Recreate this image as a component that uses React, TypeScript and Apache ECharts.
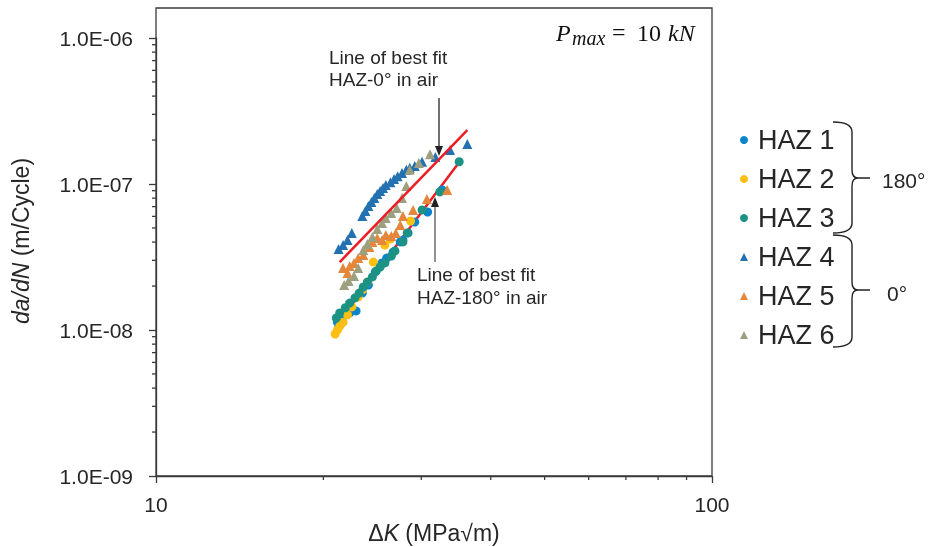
import React, { useEffect, useRef } from "react";
import * as echarts from "echarts";

const seriesNames = ["HAZ 1", "HAZ 2", "HAZ 3", "HAZ 4", "HAZ 5", "HAZ 6"];
const seriesColors = ["#0A84CA", "#FDBF12", "#1C9285", "#2371B1", "#E4873C", "#9DA07F"];

const haz1 = [[21.2,1.13e-8],[21.4,1.21e-8],[21.9,1.27e-8],[22.3,1.31e-8],[22.9,1.35e-8],[23.5,1.79e-8],[24.1,2.03e-8],[24.8,2.50e-8],[25.5,2.88e-8],[26.0,3.11e-8],[26.7,3.42e-8],[27.5,4.01e-8],[27.8,4.13e-8],[28.4,4.62e-8],[29.2,5.49e-8],[30.8,6.43e-8],[32.7,9.10e-8]];
const haz2 = [[21.0,9.39e-9],[21.2,1.0e-8],[21.4,1.06e-8],[21.7,1.13e-8],[22.1,1.27e-8],[22.5,1.44e-8],[23.1,1.68e-8],[23.5,1.88e-8],[24.0,2.13e-8],[24.6,2.92e-8],[25.8,3.82e-8],[26.4,4.20e-8],[28.7,5.58e-8]];
const haz3 = [[21.1,1.21e-8],[21.4,1.31e-8],[21.9,1.42e-8],[22.3,1.53e-8],[22.8,1.66e-8],[23.2,1.79e-8],[23.6,1.97e-8],[24.0,2.13e-8],[24.5,2.31e-8],[24.9,2.54e-8],[25.3,2.70e-8],[25.8,2.88e-8],[26.5,3.21e-8],[26.9,3.48e-8],[27.8,4.01e-8],[28.3,4.62e-8],[30.1,6.64e-8],[32.4,8.82e-8],[35.1,1.42e-7]];
const haz4 = [[21.3,3.59e-8],[21.7,3.82e-8],[22.1,4.13e-8],[22.5,4.62e-8],[23.5,6.04e-8],[23.8,6.54e-8],[24.1,7.07e-8],[24.4,7.53e-8],[24.7,8.02e-8],[25.0,8.55e-8],[25.3,8.96e-8],[25.6,9.39e-8],[25.9,9.85e-8],[26.4,1.03e-7],[26.8,1.08e-7],[27.2,1.13e-7],[27.7,1.19e-7],[28.2,1.25e-7],[28.6,1.29e-7],[29.2,1.33e-7],[30.1,1.42e-7],[31.8,1.53e-7],[33.8,1.71e-7],[36.3,1.88e-7]];
const haz5 = [[21.7,2.66e-8],[22.1,2.46e-8],[22.3,2.74e-8],[22.7,2.88e-8],[23.1,3.11e-8],[23.6,3.26e-8],[24.2,3.70e-8],[24.5,4.01e-8],[25.0,4.27e-8],[25.5,4.13e-8],[25.9,4.47e-8],[26.5,4.40e-8],[27.0,4.62e-8],[27.5,5.24e-8],[27.8,6.04e-8],[29.0,6.64e-8],[30.7,7.89e-8],[33.4,9.10e-8]];
const haz6 = [[21.8,2.03e-8],[22.2,2.17e-8],[22.7,2.34e-8],[23.1,2.66e-8],[23.6,3.53e-8],[24.0,3.88e-8],[24.5,4.34e-8],[25.0,4.92e-8],[25.5,5.41e-8],[25.9,5.85e-8],[26.5,6.33e-8],[27.1,6.85e-8],[27.7,8.02e-8],[28.2,9.69e-8],[28.6,1.25e-7],[29.7,1.39e-7],[31.1,1.60e-7]];
const fit0 = [[21.4,2.92e-8],[36.3,2.34e-7]];
const fit180 = [[21.0,1.05e-8],[34.8,1.35e-7]];

const xMin = 10, xMax = 100;
const yMin = 1e-9, yMax = 1e-6;
const xMinorTicks = [20, 30, 40, 50, 60, 70, 80, 90];
const yMinorTicks: number[] = [];
[1e-9, 1e-8, 1e-7].forEach((d) => { for (let k = 2; k <= 9; k++) yMinorTicks.push(k * d); });

const AXIS = "#3a3a3a";
const TXT = "#262626";
const FONT = "'Liberation Sans', Arial, sans-serif";
const SERIF = "'Liberation Serif', 'DejaVu Serif', serif";

const Brace = echarts.graphic.extendShape({
  shape: { x: 0, top: 0, bottom: 0, mid: 0 },
  buildPath(ctx: any, s: any) {
    const x0 = s.x, xv = s.x + 19, xt = s.x + 37;
    const t = s.top, b = s.bottom, m = s.mid;
    ctx.moveTo(x0, t);
    ctx.quadraticCurveTo(xv, t, xv, t + 10);
    ctx.lineTo(xv, m - 8);
    ctx.quadraticCurveTo(xv, m, xv + 6, m);
    ctx.lineTo(xt, m);
    ctx.moveTo(xv + 6, m);
    ctx.quadraticCurveTo(xv, m, xv, m + 8);
    ctx.lineTo(xv, b - 10);
    ctx.quadraticCurveTo(xv, b, x0, b);
  },
});
echarts.graphic.registerShape("brace", Brace);

function fmtY(v: number) {
  const e = Math.round(Math.log10(v));
  return "1.0E" + (e < 0 ? "-" : "+") + String(Math.abs(e)).padStart(2, "0");
}

export default function App() {
  const ref = useRef<HTMLDivElement>(null);
  useEffect(() => {
    const chart = echarts.init(ref.current!, undefined, { renderer: "svg" });
    const hazData = [haz1, haz2, haz3, haz4, haz5, haz6];
    const scatter = hazData.map((d, i) => ({
      name: seriesNames[i],
      type: "scatter",
      data: d,
      symbol: i < 3 ? "circle" : "triangle",
      symbolSize: i < 3 ? 9 : 10,
      itemStyle: { color: seriesColors[i], opacity: 1 },
      z: 3,
    }));
    const tickLine = (dir: "x" | "y") => (params: any, api: any) => {
      const p = api.coord([api.value(0), api.value(1)]);
      return {
        type: "line",
        shape: dir === "x"
          ? { x1: p[0], y1: p[1], x2: p[0], y2: p[1] + 4 }
          : { x1: p[0] - 4, y1: p[1], x2: p[0], y2: p[1] },
        style: { stroke: AXIS, lineWidth: 1.3 },
      };
    };
    const txt = (x: number, y: number, text: string, fontSize: number, extra: any = {}) => ({
      type: "text", x, y,
      style: { text, fontSize, fontFamily: FONT, fill: TXT, align: "left", verticalAlign: "middle", ...extra },
    });
    const option: any = {
      animation: false,
      grid: { left: 156, top: 38, right: 217, bottom: 71 },
      xAxis: {
        type: "log", logBase: 10, min: xMin, max: xMax,
        axisLine: { show: true, lineStyle: { color: AXIS, width: 1.3 } },
        axisTick: { show: true, length: 7, lineStyle: { color: AXIS, width: 1.3 } },
        axisLabel: { fontSize: 21, color: TXT, fontFamily: FONT, margin: 18 },
        splitLine: { show: false },
      },
      yAxis: {
        type: "log", logBase: 10, min: yMin, max: yMax, splitNumber: 3,
        axisLine: { show: true, lineStyle: { color: AXIS, width: 1.3 } },
        axisTick: { show: true, length: 7, lineStyle: { color: AXIS, width: 1.3 } },
        axisLabel: { fontSize: 21, color: TXT, fontFamily: FONT, margin: 23, formatter: fmtY },
        splitLine: { show: false },
      },
      legend: {
        data: seriesNames.map((n, i) => ({ name: n, icon: i < 3 ? "circle" : "triangle" })),
        orient: "vertical",
        left: 735,
        top: 120,
        itemWidth: 8,
        itemHeight: 8,
        itemGap: 9,
        textStyle: { fontSize: 27, color: TXT, fontFamily: FONT, lineHeight: 30, padding: [0, 0, 0, 5] },
        selectedMode: false,
      },
      series: [
        {
          name: "fit180", type: "line", data: fit180, symbol: "none",
          lineStyle: { color: "#ED1C24", width: 2.5 }, z: 2,
        },
        ...scatter,
        {
          name: "fit0", type: "line", data: fit0, symbol: "none",
          lineStyle: { color: "#ED1C24", width: 2.5 }, z: 4,
        },
        {
          name: "xminor", type: "custom", renderItem: tickLine("x"), clip: false, silent: true,
          data: xMinorTicks.map((v) => [v, yMin]), z: 5,
        },
        {
          name: "yminor", type: "custom", renderItem: tickLine("y"), clip: false, silent: true,
          data: yMinorTicks.map((v) => [xMin, v]), z: 5,
        },
      ],
      graphic: [
        { type: "rect", shape: { x: 156, y: 8, width: 556, height: 468 }, style: { fill: "none", stroke: AXIS, lineWidth: 1.3 }, silent: true },
        txt(556, 33, "P", 24, { fontStyle: "italic", fontFamily: SERIF, fill: "#111" }),
        txt(572, 38, "max", 20, { fontStyle: "italic", fontFamily: SERIF, fill: "#111" }),
        txt(612, 32, "=", 24, { fontFamily: SERIF, fill: "#111" }),
        txt(637, 33, "10", 24, { fontFamily: SERIF, fill: "#111" }),
        txt(668, 33, "kN", 24, { fontStyle: "italic", fontFamily: SERIF, fill: "#111" }),
        txt(329, 57, "Line of best fit", 19),
        txt(329, 79, "HAZ-0° in air", 19),
        txt(417, 274, "Line of best fit", 19),
        txt(417, 297, "HAZ-180° in air", 19),
        { type: "line", shape: { x1: 439, y1: 98, x2: 439, y2: 148 }, style: { stroke: "#222", lineWidth: 1.3 } },
        { type: "polygon", shape: { points: [[435, 146], [443, 146], [439, 156]] }, style: { fill: "#222" } },
        { type: "line", shape: { x1: 435, y1: 262, x2: 435, y2: 205 }, style: { stroke: "#555", lineWidth: 1.3 } },
        { type: "polygon", shape: { points: [[431, 207], [439, 207], [435, 197]] }, style: { fill: "#222" } },
        { type: "brace", shape: { x: 833, top: 122, bottom: 233, mid: 178 }, style: { fill: "none", stroke: "#222", lineWidth: 1.4 } },
        { type: "brace", shape: { x: 833, top: 235, bottom: 347, mid: 290 }, style: { fill: "none", stroke: "#222", lineWidth: 1.4 } },
        txt(882, 180, "180°", 21),
        txt(887, 293, "0°", 21),
        { type: "text", x: 434, y: 533, style: { text: "Δ{i|K} (MPa√m)", fontSize: 23, fontFamily: FONT, fill: TXT, align: "center", verticalAlign: "middle", rich: { i: { fontSize: 23, fontStyle: "italic", fontFamily: FONT, fill: TXT } } } },
        { type: "text", x: 21, y: 241, rotation: Math.PI / 2, style: { text: "{i|da/dN} (m/Cycle)", fontSize: 23, fontFamily: FONT, fill: TXT, align: "center", verticalAlign: "middle", rich: { i: { fontSize: 23, fontStyle: "italic", fontFamily: FONT, fill: TXT } } } },
      ],
    };
    chart.setOption(option);
    return () => chart.dispose();
  }, []);
  return <div ref={ref} style={{ position: "fixed", left: 0, top: 0, width: 929, height: 547 }} />;
}
